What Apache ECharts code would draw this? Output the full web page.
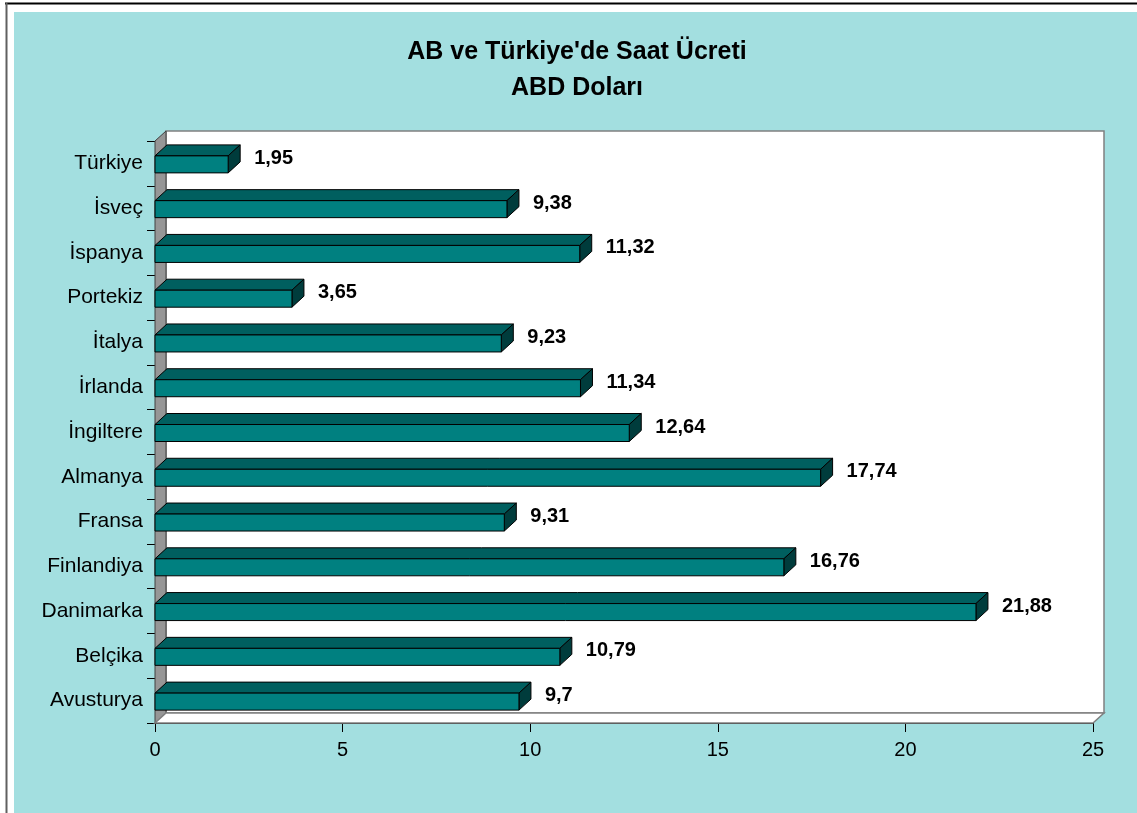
<!DOCTYPE html>
<html>
<head>
<meta charset="utf-8">
<script src="https://cdn.jsdelivr.net/npm/echarts@6/dist/echarts.min.js"></script>
<style>
  html, body { margin: 0; padding: 0; background: #fff; }
  #chart { width: 1137px; height: 813px; }
</style>
</head>
<body>
<div id="chart"></div>
<script>
// countries from bottom to top
var countries = ["Avusturya", "Belçika", "Danimarka", "Finlandiya", "Fransa", "Almanya",
  "İngiltere", "İrlanda", "İtalya", "Portekiz", "İspanya", "İsveç", "Türkiye"];
var wages = [9.7, 10.79, 21.88, 16.76, 9.31, 17.74, 12.64, 11.34, 9.23, 3.65, 11.32, 9.38, 1.95];
var xTicks = [0, 5, 10, 15, 20, 25];

var FONT = "Liberation Sans, Arial, sans-serif";
var WALL_DX = 11, WALL_DY = 10;
var BAR_DX = 12, BAR_DY = 11;

var chart = echarts.init(document.getElementById("chart"));

function fmt(v) {
  return String(v).replace(".", ",");
}

function renderWalls(params, api) {
  var r = params.coordSys;
  var x = r.x, y = r.y, w = r.width, h = r.height;
  return {
    type: "group",
    children: [
      { type: "rect", shape: { x: x + WALL_DX, y: y - WALL_DY, width: w, height: h },
        style: { fill: "#ffffff", stroke: "#808080", lineWidth: 1.5 } },
      { type: "polygon", shape: { points: [[x, y], [x + WALL_DX, y - WALL_DY], [x + WALL_DX, y + h - WALL_DY], [x, y + h]] },
        style: { fill: "#969696", stroke: "#404040", lineWidth: 1 } },
      { type: "polygon", shape: { points: [[x, y + h], [x + WALL_DX, y + h - WALL_DY], [x + w + WALL_DX, y + h - WALL_DY], [x + w, y + h]] },
        style: { fill: "#ffffff", stroke: "#808080", lineWidth: 1.5 } }
    ]
  };
}

function renderBar(params, api) {
  var idx = api.value(0);
  var val = api.value(1);
  var p0 = api.coord([0, idx]);
  var p1 = api.coord([val, idx]);
  var x0 = p0[0], x1 = p1[0], yc = p0[1];
  var ft = yc - 7.5, fb = yc + 9.5;
  var line = { stroke: "#000", lineWidth: 1 };
  return {
    type: "group",
    children: [
      { type: "polygon", shape: { points: [[x0, ft], [x0 + BAR_DX, ft - BAR_DY], [x1 + BAR_DX, ft - BAR_DY], [x1, ft]] },
        style: Object.assign({ fill: "#005f5f" }, line) },
      { type: "polygon", shape: { points: [[x1, ft], [x1 + BAR_DX, ft - BAR_DY], [x1 + BAR_DX, fb - BAR_DY], [x1, fb]] },
        style: Object.assign({ fill: "#003c3c" }, line) },
      { type: "rect", shape: { x: x0, y: ft, width: x1 - x0, height: fb - ft },
        style: Object.assign({ fill: "#008080" }, line) },
      { type: "text", x: x1 + 26, y: yc - 5,
        style: { text: fmt(val), fill: "#000", font: "bold 20px " + FONT, align: "left", verticalAlign: "middle" } }
    ]
  };
}

chart.setOption({
  backgroundColor: "#ffffff",
  animation: false,
  graphic: [
    { type: "rect", z: -10, shape: { x: 14, y: 12, width: 1137 - 14, height: 813 - 12 },
      style: { fill: "#a3dfe0" } },
    { type: "line", z: -10, shape: { x1: 5, y1: 3.5, x2: 1137, y2: 3.5 }, style: { stroke: "#000", lineWidth: 2 } },
    { type: "line", z: -10, shape: { x1: 6.5, y1: 3, x2: 6.5, y2: 813 }, style: { stroke: "#606060", lineWidth: 2 } },
    { type: "text", x: 577, y: 52, style: { text: "AB ve Türkiye'de Saat Ücreti", font: "bold 25px " + FONT,
      fill: "#000", align: "center", verticalAlign: "middle" } },
    { type: "text", x: 577, y: 88, style: { text: "ABD Doları", font: "bold 25px " + FONT,
      fill: "#000", align: "center", verticalAlign: "middle" } }
  ],
  grid: { left: 155, right: 44, top: 141, bottom: 90 },
  xAxis: {
    type: "value",
    min: xTicks[0],
    max: xTicks[xTicks.length - 1],
    interval: 5,
    splitLine: { show: false },
    axisLine: { show: true, lineStyle: { color: "#000", width: 1 } },
    axisTick: { show: true, length: 9, lineStyle: { color: "#000" } },
    axisLabel: { color: "#000", fontSize: 20, fontFamily: FONT, margin: 17 }
  },
  yAxis: {
    type: "category",
    data: countries,
    axisLine: { show: true, lineStyle: { color: "#000", width: 1 } },
    axisTick: { show: true, length: 8, lineStyle: { color: "#000" } },
    axisLabel: { color: "#000", fontSize: 21, fontFamily: FONT, margin: 12 }
  },
  series: [
    {
      type: "custom",
      coordinateSystem: "cartesian2d",
      renderItem: renderWalls,
      data: [[0, 0]],
      z: 1,
      silent: true
    },
    {
      type: "custom",
      coordinateSystem: "cartesian2d",
      renderItem: renderBar,
      encode: { x: 1, y: 0 },
      data: wages.map(function (v, i) { return [i, v]; }),
      z: 3
    }
  ]
});
</script>
</body>
</html>
